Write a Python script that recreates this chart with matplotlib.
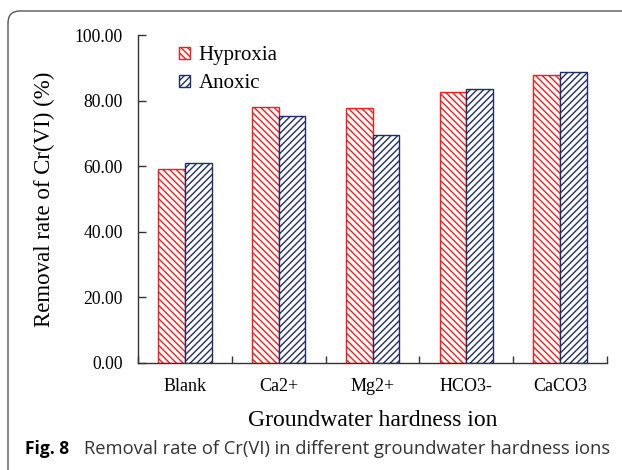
import matplotlib
matplotlib.use("Agg")
import matplotlib.pyplot as plt
from matplotlib.patches import FancyBboxPatch
from matplotlib.ticker import FormatStrFormatter
import numpy as np

# datos
iones = ["Blank", "Ca2+", "Mg2+", "HCO3-", "CaCO3"]
hipoxia = [59.1, 78.1, 77.8, 82.5, 87.8]
anoxia = [60.8, 75.4, 69.4, 83.6, 88.8]
yticks = [0, 20, 40, 60, 80, 100]

rojo = "#ff1a1a"
azul = "#1f2d66"

plt.rcParams["font.family"] = ["Liberation Serif", "DejaVu Serif"]
plt.rcParams["hatch.linewidth"] = 1.0

fig = plt.figure(figsize=(6.22, 4.70), dpi=100)
ax = fig.add_axes([138 / 622, 1 - 362.7 / 470, (607 - 138) / 622, (362.7 - 35) / 470])

x = np.arange(1, len(iones) + 1)
ancho = 0.285
ax.bar(x - ancho / 2, hipoxia, ancho, color="white", edgecolor=rojo,
       hatch="\\\\\\\\\\", linewidth=1.0, label="Hyproxia")
ax.bar(x + ancho / 2, anoxia, ancho, color="white", edgecolor=azul,
       hatch="/////", linewidth=1.0, label="Anoxic")

ax.set_xlim(0.5, 5.5)
ax.set_ylim(0, 100)
ax.set_yticks(yticks)
ax.yaxis.set_major_formatter(FormatStrFormatter("%.2f"))
ax.set_xticks(x)
ax.set_xticklabels(iones)
ax.set_xticks(np.arange(0.5, 6, 1), minor=True)

for s in ["top", "right"]:
    ax.spines[s].set_visible(False)
for s in ["left", "bottom"]:
    ax.spines[s].set_color("#333333")
    ax.spines[s].set_linewidth(1.0)

ax.tick_params(axis="y", direction="in", length=6, width=1.0, color="#333333",
               labelsize=12.7, pad=11)
ax.tick_params(axis="x", which="major", length=0, labelsize=13, pad=11)
ax.tick_params(axis="x", which="minor", direction="in", length=5, width=1.0,
               color="#333333")

ax.set_xlabel("Groundwater hardness ion", fontsize=17, labelpad=10.5)
ax.set_ylabel("Removal rate of Cr(VI) (%)", fontsize=16.5, labelpad=14)

ax.legend(loc="upper left", bbox_to_anchor=(41 / 469, 0.965), frameon=False,
          fontsize=15, handlelength=0.55, handleheight=0.55, handletextpad=0.4,
          labelspacing=0.42, borderpad=0, borderaxespad=0)

# marco redondeado y pie de figura
marco = FancyBboxPatch((0.08, -0.3), 6.6, 4.59 + 0.3,
                       boxstyle="round,pad=0,rounding_size=0.12",
                       transform=fig.dpi_scale_trans, facecolor="none",
                       edgecolor="#555555", linewidth=1.0)
fig.patches.append(marco)

fig.text(25 / 622, 1 - 449 / 470, "Fig. 8", fontsize=12.5, fontweight="bold",
         family=["Open Sans", "DejaVu Sans"], va="center", ha="left")
fig.text(84 / 622, 1 - 449 / 470,
         "Removal rate of Cr(VI) in different groundwater hardness ions",
         fontsize=13.2, family=["Open Sans", "DejaVu Sans"], color="#333333",
         va="center", ha="left")

fig.savefig("out.png", dpi=100)
